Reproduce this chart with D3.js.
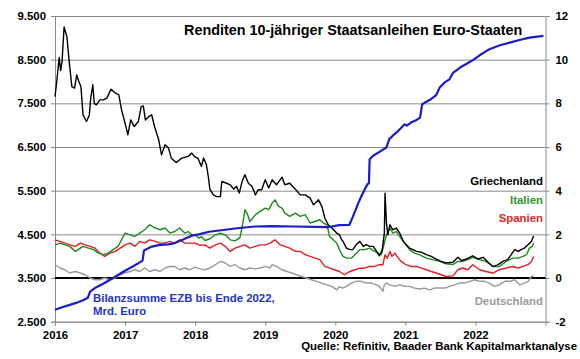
<!DOCTYPE html>
<html>
<head>
<meta charset="utf-8">
<script src="https://cdn.jsdelivr.net/npm/d3@7"></script>
<style>
html,body{margin:0;padding:0;background:#fff;}
svg{display:block;font-family:"Liberation Sans",Arial,sans-serif;font-weight:bold;}
</style>
</head>
<body>
<svg id="chart" width="580" height="359"></svg>
<script>
// ---- data (decimal year, value) ----
const years = [2016, 2017, 2018, 2019, 2020, 2021, 2022];
const leftTicks = [2500, 3500, 4500, 5500, 6500, 7500, 8500, 9500];
const rightTicks = [-2, 0, 2, 4, 6, 8, 10, 12];

const greece = [[2016.00,8.31],[2016.02,8.85],[2016.06,10.1],[2016.08,9.5],[2016.10,9.9],[2016.13,11.5],[2016.17,11.05],[2016.20,10.0],[2016.24,8.77],[2016.28,8.7],[2016.31,9.3],[2016.34,9.0],[2016.37,8.77],[2016.40,7.47],[2016.45,7.17],[2016.49,7.47],[2016.51,8.24],[2016.54,8.85],[2016.56,8.0],[2016.59,7.93],[2016.64,8.16],[2016.69,8.16],[2016.74,8.24],[2016.80,8.65],[2016.86,8.47],[2016.91,8.4],[2016.95,7.7],[2017.00,7.09],[2017.04,6.56],[2017.08,7.24],[2017.13,6.94],[2017.19,7.17],[2017.23,7.85],[2017.26,7.88],[2017.29,7.24],[2017.34,7.4],[2017.38,7.47],[2017.42,6.94],[2017.45,6.64],[2017.48,6.33],[2017.52,5.64],[2017.57,6.1],[2017.62,5.95],[2017.66,5.49],[2017.73,5.29],[2017.81,5.49],[2017.90,5.57],[2017.95,5.72],[2018.00,5.54],[2018.04,5.49],[2018.09,5.11],[2018.12,5.5],[2018.16,5.2],[2018.19,4.6],[2018.21,4.07],[2018.26,3.81],[2018.31,3.73],[2018.36,3.73],[2018.38,4.42],[2018.45,4.34],[2018.50,4.27],[2018.55,4.07],[2018.59,4.2],[2018.63,3.89],[2018.67,4.42],[2018.71,4.73],[2018.76,4.34],[2018.81,4.2],[2018.86,3.81],[2018.90,4.04],[2018.95,4.04],[2019.00,4.5],[2019.05,4.12],[2019.10,4.5],[2019.16,4.27],[2019.24,4.62],[2019.28,4.27],[2019.35,4.34],[2019.43,4.07],[2019.50,3.81],[2019.57,3.81],[2019.64,3.66],[2019.69,3.35],[2019.76,3.58],[2019.81,3.27],[2019.85,2.75],[2019.90,2.44],[2019.95,2.29],[2020.02,2.06],[2020.06,1.98],[2020.09,1.75],[2020.11,1.68],[2020.16,1.37],[2020.21,1.3],[2020.25,1.3],[2020.30,1.53],[2020.35,1.68],[2020.40,1.45],[2020.44,1.53],[2020.49,1.45],[2020.54,1.45],[2020.59,1.22],[2020.63,1.02],[2020.67,1.3],[2020.70,2.06],[2020.71,3.89],[2020.73,2.52],[2020.75,1.98],[2020.78,2.44],[2020.82,2.21],[2020.87,2.29],[2020.92,2.06],[2020.97,1.68],[2021.01,1.53],[2021.06,1.37],[2021.11,1.3],[2021.16,1.22],[2021.23,1.18],[2021.30,1.07],[2021.37,0.99],[2021.44,0.87],[2021.51,0.76],[2021.58,0.69],[2021.68,0.72],[2021.75,0.95],[2021.80,0.8],[2021.87,0.87],[2021.96,1.02],[2022.04,0.87],[2022.11,0.95],[2022.18,0.72],[2022.25,0.53],[2022.32,0.6],[2022.39,0.76],[2022.46,0.84],[2022.51,1.07],[2022.56,1.3],[2022.61,1.22],[2022.65,1.3],[2022.70,1.37],[2022.75,1.52],[2022.80,1.68],[2022.83,1.93]];

const italy = [[2016.00,1.52],[2016.07,1.6],[2016.14,1.52],[2016.21,1.45],[2016.29,1.22],[2016.33,1.3],[2016.40,1.45],[2016.48,1.37],[2016.55,1.3],[2016.62,1.14],[2016.69,1.07],[2016.76,1.14],[2016.83,1.3],[2016.90,1.45],[2016.95,1.75],[2017.00,2.06],[2017.07,1.98],[2017.14,1.9],[2017.21,2.06],[2017.28,2.21],[2017.35,2.44],[2017.43,2.29],[2017.50,2.21],[2017.57,2.29],[2017.64,2.06],[2017.71,2.13],[2017.78,2.29],[2017.85,2.06],[2017.90,2.13],[2017.95,1.98],[2018.00,1.98],[2018.05,1.83],[2018.09,1.9],[2018.14,1.72],[2018.21,1.8],[2018.29,1.98],[2018.36,2.05],[2018.43,1.98],[2018.50,1.75],[2018.57,1.7],[2018.64,1.85],[2018.69,2.67],[2018.71,3.13],[2018.75,2.9],[2018.78,2.59],[2018.86,2.9],[2018.93,3.05],[2019.00,3.2],[2019.05,3.13],[2019.10,3.43],[2019.14,3.58],[2019.19,3.28],[2019.24,3.2],[2019.28,2.97],[2019.35,2.82],[2019.43,2.97],[2019.50,2.82],[2019.57,2.9],[2019.64,2.52],[2019.71,2.59],[2019.78,2.67],[2019.83,2.52],[2019.88,2.44],[2019.92,1.9],[2019.97,1.75],[2020.02,1.6],[2020.06,1.3],[2020.11,0.99],[2020.16,0.91],[2020.23,0.91],[2020.28,1.07],[2020.35,1.3],[2020.42,1.3],[2020.49,1.37],[2020.56,1.22],[2020.61,1.14],[2020.66,1.07],[2020.70,1.6],[2020.73,1.98],[2020.78,2.29],[2020.82,2.06],[2020.87,2.13],[2020.92,1.9],[2020.99,1.6],[2021.06,1.3],[2021.13,1.14],[2021.20,1.07],[2021.30,0.91],[2021.39,0.84],[2021.49,0.76],[2021.58,0.65],[2021.68,0.62],[2021.75,0.76],[2021.82,0.76],[2021.89,0.84],[2021.96,0.95],[2022.06,0.84],[2022.15,0.76],[2022.25,0.53],[2022.34,0.53],[2022.44,0.76],[2022.53,0.91],[2022.61,0.91],[2022.68,0.99],[2022.73,1.07],[2022.77,1.37],[2022.81,1.45],[2022.83,1.6]];

const spain = [[2016.00,1.75],[2016.07,1.68],[2016.14,1.6],[2016.21,1.52],[2016.29,1.45],[2016.36,1.6],[2016.43,1.52],[2016.50,1.45],[2016.57,1.37],[2016.64,1.14],[2016.71,0.99],[2016.78,1.14],[2016.86,1.22],[2016.93,1.37],[2017.00,1.52],[2017.07,1.6],[2017.14,1.45],[2017.21,1.68],[2017.28,1.6],[2017.35,1.75],[2017.43,1.68],[2017.50,1.6],[2017.57,1.6],[2017.64,1.68],[2017.71,1.6],[2017.78,1.75],[2017.85,1.6],[2017.92,1.6],[2018.00,1.6],[2018.07,1.5],[2018.14,1.52],[2018.21,1.37],[2018.29,1.52],[2018.36,1.6],[2018.43,1.45],[2018.50,1.22],[2018.57,1.37],[2018.64,1.45],[2018.71,1.52],[2018.78,1.37],[2018.86,1.45],[2018.93,1.52],[2019.00,1.52],[2019.07,1.6],[2019.14,1.75],[2019.21,1.52],[2019.28,1.45],[2019.35,1.37],[2019.43,1.22],[2019.50,1.22],[2019.57,1.07],[2019.64,0.99],[2019.71,0.91],[2019.78,0.84],[2019.85,0.53],[2019.92,0.45],[2019.99,0.38],[2020.06,0.3],[2020.13,0.15],[2020.21,0.3],[2020.28,0.38],[2020.35,0.45],[2020.42,0.45],[2020.49,0.53],[2020.56,0.53],[2020.63,0.61],[2020.68,0.61],[2020.71,1.07],[2020.74,0.91],[2020.78,1.22],[2020.81,0.99],[2020.85,1.14],[2020.90,0.91],[2020.94,0.76],[2021.01,0.61],[2021.08,0.53],[2021.16,0.53],[2021.23,0.45],[2021.30,0.38],[2021.37,0.3],[2021.44,0.23],[2021.51,0.15],[2021.58,0.07],[2021.68,0.1],[2021.75,0.38],[2021.82,0.46],[2021.89,0.38],[2021.96,0.61],[2022.06,0.38],[2022.15,0.3],[2022.25,0.23],[2022.34,0.38],[2022.44,0.46],[2022.53,0.53],[2022.61,0.46],[2022.68,0.53],[2022.75,0.61],[2022.80,0.76],[2022.83,0.99]];

const germany = [[2016.00,0.61],[2016.07,0.46],[2016.14,0.38],[2016.21,0.23],[2016.29,0.3],[2016.36,0.23],[2016.43,0.15],[2016.50,0.0],[2016.57,-0.08],[2016.64,-0.08],[2016.71,0.0],[2016.78,-0.08],[2016.86,0.0],[2016.93,0.15],[2017.00,0.23],[2017.07,0.3],[2017.14,0.38],[2017.21,0.3],[2017.28,0.46],[2017.35,0.3],[2017.43,0.38],[2017.50,0.3],[2017.57,0.46],[2017.64,0.53],[2017.71,0.53],[2017.78,0.38],[2017.85,0.46],[2017.92,0.38],[2018.00,0.5],[2018.07,0.42],[2018.14,0.38],[2018.21,0.46],[2018.29,0.61],[2018.36,0.76],[2018.43,0.69],[2018.50,0.53],[2018.57,0.61],[2018.64,0.46],[2018.71,0.38],[2018.78,0.46],[2018.86,0.42],[2018.93,0.46],[2019.00,0.53],[2019.07,0.46],[2019.10,0.61],[2019.16,0.53],[2019.24,0.38],[2019.31,0.3],[2019.38,0.23],[2019.45,0.15],[2019.52,0.07],[2019.59,0.0],[2019.66,-0.08],[2019.73,-0.15],[2019.81,-0.23],[2019.88,-0.31],[2019.95,-0.38],[2020.02,-0.54],[2020.06,-0.4],[2020.11,-0.46],[2020.16,-0.38],[2020.23,-0.23],[2020.30,-0.15],[2020.37,-0.15],[2020.44,-0.23],[2020.51,-0.23],[2020.59,-0.31],[2020.63,-0.38],[2020.68,-0.61],[2020.70,-0.31],[2020.73,-0.23],[2020.78,-0.31],[2020.85,-0.38],[2020.92,-0.31],[2020.99,-0.38],[2021.06,-0.38],[2021.13,-0.46],[2021.20,-0.5],[2021.27,-0.46],[2021.35,-0.54],[2021.42,-0.46],[2021.49,-0.46],[2021.56,-0.46],[2021.63,-0.38],[2021.70,-0.31],[2021.77,-0.23],[2021.84,-0.23],[2021.92,-0.15],[2021.99,-0.08],[2022.06,-0.15],[2022.13,-0.15],[2022.20,-0.23],[2022.27,-0.38],[2022.34,-0.31],[2022.42,-0.15],[2022.49,-0.15],[2022.56,-0.08],[2022.63,-0.31],[2022.70,-0.23],[2022.75,-0.15],[2022.80,0.07],[2022.83,0.1]];

// ECB balance sheet, Mrd. Euro (left axis)
const ecb = [[2016.00,2775],[2016.10,2830],[2016.20,2880],[2016.30,2930],[2016.40,2990],[2016.47,3050],[2016.50,3190],[2016.57,3270],[2016.70,3380],[2016.83,3500],[2016.95,3620],[2017.07,3730],[2017.19,3840],[2017.25,3900],[2017.27,4130],[2017.38,4220],[2017.50,4260],[2017.62,4270],[2017.71,4300],[2017.83,4380],[2017.95,4470],[2018.05,4500],[2018.20,4560],[2018.40,4600],[2018.60,4640],[2018.85,4680],[2019.10,4690],[2019.40,4680],[2019.70,4670],[2019.90,4665],[2020.06,4710],[2020.20,4715],[2020.25,4900],[2020.30,5100],[2020.33,5220],[2020.38,5400],[2020.43,5560],[2020.46,5650],[2020.48,5670],[2020.49,6220],[2020.54,6300],[2020.63,6390],[2020.73,6490],[2020.77,6680],[2020.82,6760],[2020.90,6870],[2020.99,7020],[2021.02,6990],[2021.08,7060],[2021.16,7120],[2021.21,7175],[2021.24,7480],[2021.30,7535],[2021.37,7600],[2021.44,7690],[2021.49,7860],[2021.56,7980],[2021.63,8050],[2021.68,8200],[2021.78,8320],[2021.87,8400],[2021.97,8495],[2022.06,8600],[2022.20,8740],[2022.35,8830],[2022.49,8890],[2022.63,8950],[2022.77,9006],[2022.97,9045]];

// ---- drawing ----
const svg = d3.select("#chart");
const L = 55, R = 545.5, T = 16, B = 321.7;
const x = d3.scaleLinear().domain([2016, 2023]).range([L, R]);
const yL = d3.scaleLinear().domain([2500, 9500]).range([B, T]);
const yR = d3.scaleLinear().domain([-2, 12]).range([B, T]);
const de = d3.formatLocale({decimal: ",", thousands: ".", grouping: [3], currency: ["", " €"]});
const fmt = de.format(",");
const FS = "11.4px";

// gridlines
svg.append("g").attr("transform", `translate(${L},0)`)
  .call(d3.axisLeft(yL).tickValues(leftTicks).tickSize(-(R - L)).tickFormat(""))
  .call(g => g.select(".domain").remove())
  .call(g => g.selectAll("line").attr("stroke", "#8a8a8a").attr("stroke-width", 1));

// left axis
svg.append("g").attr("transform", `translate(${L},0)`)
  .call(d3.axisLeft(yL).tickValues(leftTicks).tickSize(4).tickPadding(5).tickFormat(fmt))
  .call(g => g.selectAll("path,line").attr("stroke", "#8a8a8a"))
  .call(g => g.selectAll("text").attr("font-size", FS).attr("font-weight", "bold").attr("fill", "#000").attr("font-family", "Liberation Sans, Arial, sans-serif"));

// right axis
svg.append("g").attr("transform", `translate(${R},0)`)
  .call(d3.axisRight(yR).tickValues(rightTicks).tickSize(4).tickPadding(6).tickFormat(d => String(d)))
  .call(g => g.selectAll("path,line").attr("stroke", "#8a8a8a"))
  .call(g => g.selectAll("text").attr("font-size", FS).attr("font-weight", "bold").attr("fill", "#000").attr("font-family", "Liberation Sans, Arial, sans-serif"));

// bottom axis
svg.append("g").attr("transform", `translate(0,${B})`)
  .call(d3.axisBottom(x).tickValues(years).tickSize(4).tickPadding(5).tickFormat(d => String(d)))
  .call(g => g.selectAll("path,line").attr("stroke", "#8a8a8a"))
  .call(g => g.selectAll("text").attr("font-size", FS).attr("font-weight", "bold").attr("fill", "#000").attr("font-family", "Liberation Sans, Arial, sans-serif"));

// zero line (right axis 0)
svg.append("line").attr("x1", L).attr("x2", R).attr("y1", yR(0)).attr("y2", yR(0))
  .attr("stroke", "#000").attr("stroke-width", 2);

const lineR = d3.line().x(d => x(d[0])).y(d => yR(d[1]));
const lineL = d3.line().x(d => x(d[0])).y(d => yL(d[1]));

const series = [
  {data: germany, color: "#999999", w: 1.4},
  {data: spain, color: "#e31e24", w: 1.4},
  {data: italy, color: "#1e8a1e", w: 1.4},
  {data: greece, color: "#000000", w: 1.4}
];
series.forEach(s => {
  svg.append("path").datum(s.data).attr("d", lineR)
    .attr("fill", "none").attr("stroke", s.color).attr("stroke-width", s.w)
    .attr("stroke-linejoin", "round");
});
svg.append("path").datum(ecb).attr("d", lineL)
  .attr("fill", "none").attr("stroke", "#1c1cc8").attr("stroke-width", 2.2)
  .attr("stroke-linejoin", "round");

// texts
function txt(s, xx, yy, opts) {
  const t = svg.append("text").attr("x", xx).attr("y", yy).text(s)
    .attr("font-size", (opts && opts.size) || FS).attr("font-weight", "bold")
    .attr("fill", (opts && opts.fill) || "#000")
    .attr("text-anchor", (opts && opts.anchor) || "start");
  return t;
}
txt("Renditen 10-jähriger Staatsanleihen Euro-Staaten", 184, 34.5, {size: "14.4px"});
txt("Griechenland", 543, 184.5, {anchor: "end"});
txt("Italien", 543, 204, {anchor: "end", fill: "#2a9a2a"});
txt("Spanien", 543, 222, {anchor: "end", fill: "#e3262a"});
txt("Deutschland", 543, 305, {anchor: "end", fill: "#9c9c9c"});
txt("Bilanzsumme EZB bis Ende 2022,", 93, 302, {fill: "#2233c8"});
txt("Mrd. Euro", 93, 315, {fill: "#2233c8"});
txt("Quelle: Refinitiv, Baader Bank Kapitalmarktanalyse", 577, 350, {anchor: "end"});
</script>
</body>
</html>
